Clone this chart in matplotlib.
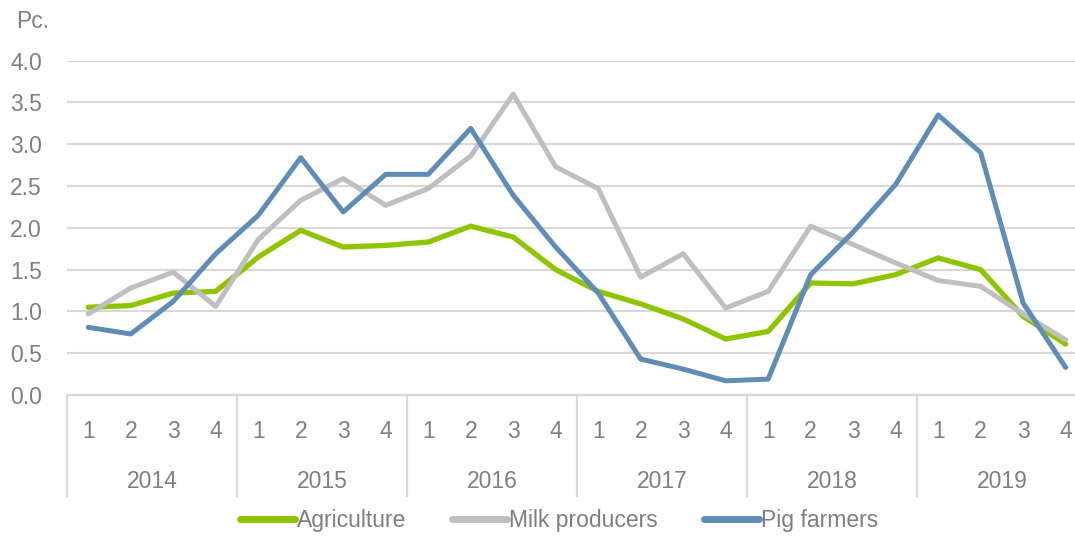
import numpy as np
import matplotlib.pyplot as plt
import matplotlib.transforms as mtransforms

# quarterly data 2014-2019
years = ['2014', '2015', '2016', '2017', '2018', '2019']
quarters = ['1', '2', '3', '4']

agriculture = [1.05, 1.07, 1.22, 1.24, 1.65, 1.97, 1.77, 1.79,
               1.83, 2.02, 1.89, 1.50, 1.24, 1.09, 0.91, 0.67,
               0.76, 1.34, 1.33, 1.44, 1.64, 1.50, 0.94, 0.61]
milk = [0.97, 1.28, 1.47, 1.06, 1.86, 2.33, 2.59, 2.27,
        2.47, 2.86, 3.60, 2.73, 2.47, 1.41, 1.69, 1.04,
        1.24, 2.02, 1.80, 1.58, 1.37, 1.30, 0.97, 0.66]
pig = [0.81, 0.73, 1.12, 1.69, 2.15, 2.84, 2.19, 2.64,
       2.64, 3.19, 2.39, 1.77, 1.22, 0.43, 0.31, 0.17,
       0.19, 1.44, 1.95, 2.52, 3.35, 2.90, 1.10, 0.33]

plt.rcParams['font.family'] = ['Liberation Sans', 'DejaVu Sans']
txt = '#7f7f7f'
grid = '#d9d9d9'
fs = 16.5

fig = plt.figure(figsize=(10.75, 5.36), dpi=100)
ax = fig.add_axes([67 / 1075, 1 - 395 / 536, 1 - 67 / 1075, (395 - 60.7) / 536])

x = np.arange(len(agriculture))
ax.plot(x, agriculture, color='#8fc400', lw=3.8, label='Agriculture', solid_capstyle='round')
ax.plot(x, milk, color='#bfbfbf', lw=3.6, label='Milk producers', solid_capstyle='round')
ax.plot(x, pig, color='#5f8db5', lw=3.6, label='Pig farmers', solid_capstyle='round')

ax.set_ylim(0, 4.0)
ax.set_xlim(-0.5, 23.22)
ax.set_yticks(np.arange(0, 4.01, 0.5))
ax.set_yticklabels([f'{v:.1f}' for v in np.arange(0, 4.01, 0.5)])
ax.yaxis.grid(True, color=grid, lw=1.6)
ax.set_axisbelow(True)
for s in ['top', 'right', 'left']:
    ax.spines[s].set_visible(False)
ax.spines['bottom'].set_color(grid)
ax.spines['bottom'].set_linewidth(1.6)
ax.tick_params(axis='y', length=0, labelsize=fs, labelcolor=txt, pad=18)

# two-level category axis: quarters and years
ax.set_xticks(x)
ax.set_xticklabels(quarters * len(years))
ax.tick_params(axis='x', length=0, labelsize=fs, labelcolor=txt, pad=18)

trans = mtransforms.blended_transform_factory(ax.transData, ax.transAxes)
sep_bottom = -(496 - 395) / (395 - 60.7)
for i in range(len(years) + 1):
    xs = i * 4 - 0.5
    ax.plot([xs, xs], [0, sep_bottom], transform=trans, color=grid, lw=1.6,
            clip_on=False)
for i, yr in enumerate(years):
    ax.text(i * 4 + 1.5, -(481 - 395) / (395 - 60.7), yr, transform=trans,
            ha='center', va='center', fontsize=fs, color=txt)

fig.text(16 / 1075, 1 - 22 / 536, 'Pc.', fontsize=fs, color=txt, va='center', ha='left')

leg = fig.legend(loc='center', bbox_to_anchor=(559 / 1075, 1 - 521 / 536), ncol=3,
                 frameon=False, fontsize=fs, handlelength=2.4, handletextpad=0.08,
                 columnspacing=2.0, labelcolor=txt, borderpad=0)
for h in leg.get_lines():
    h.set_linewidth(5)

fig.savefig('out.png', dpi=100)
